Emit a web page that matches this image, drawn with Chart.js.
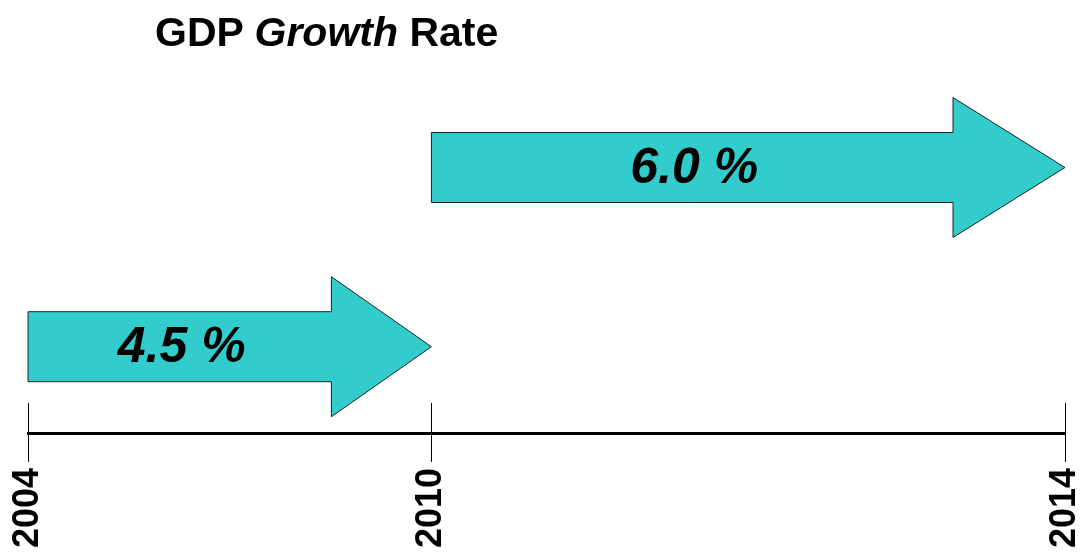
<!DOCTYPE html>
<html>
<head>
<meta charset="utf-8">
<script src="https://cdn.jsdelivr.net/npm/chart.js@4.4.0/dist/chart.umd.min.js"></script>
<style>
  body { margin: 0; background: #fff; }
  #wrap { position: relative; width: 1082px; height: 554px; }
  #title {
    position: absolute; left: 155px; top: 9px;
    font: bold 41px "Liberation Sans", Arial, sans-serif; color: #000;
  }
</style>
</head>
<body>
<div id="wrap">
  <div id="title">GDP <i>Growth</i> Rate</div>
  <canvas id="chart" width="1082" height="554"></canvas>
</div>
<script>
// データ
const years = ["2004", "2010", "2014"];
const periodStart = ["2004", "2010"];
const periodEnd = ["2010", "2014"];
const growthRates = [4.5, 6.0];
const rateLabels = ["4.5 %", "6.0 %"];

// 元のスライドでは年の間隔が比例していないので、軸上の位置を別に持つ (0〜1)
const yearAxisPos = [0, 0.389, 1];
const posOf = (yr) => yearAxisPos[years.indexOf(yr)];

// 矢印の形
const arrowHead = [100, 112];
const bodyHalf = 35;
const headHalf = 70;

const arrowPlugin = {
  id: "arrows",
  afterDatasetsDraw(chart) {
    const { ctx, scales: { x, y } } = chart;
    const meta = chart.getDatasetMeta(0);
    ctx.save();
    growthRates.forEach((rate, i) => {
      const x0 = x.getPixelForValue(posOf(periodStart[i]));
      const tip = meta.data[i].x;
      const yc = meta.data[i].y;
      const xh = tip - arrowHead[i];
      ctx.beginPath();
      ctx.moveTo(x0, yc - bodyHalf);
      ctx.lineTo(xh, yc - bodyHalf);
      ctx.lineTo(xh, yc - headHalf);
      ctx.lineTo(tip, yc);
      ctx.lineTo(xh, yc + headHalf);
      ctx.lineTo(xh, yc + bodyHalf);
      ctx.lineTo(x0, yc + bodyHalf);
      ctx.closePath();
      ctx.fillStyle = "#33CCCC";
      ctx.fill();
      ctx.lineWidth = 1;
      ctx.strokeStyle = "#222";
      ctx.stroke();

      ctx.fillStyle = "#000";
      ctx.font = 'italic bold 50px "Liberation Sans", Arial, sans-serif';
      ctx.textAlign = "center";
      ctx.textBaseline = "middle";
      ctx.fillText(rateLabels[i], (x0 + xh) / 2 + 2, yc + 2);
    });

    // 軸の上に出る目盛りの線
    ctx.strokeStyle = "#000";
    ctx.lineWidth = 1;
    yearAxisPos.forEach((p) => {
      const px = Math.round(x.getPixelForValue(p)) + 0.5;
      ctx.beginPath();
      ctx.moveTo(px, y.bottom - 31);
      ctx.lineTo(px, y.bottom);
      ctx.stroke();
    });
    ctx.restore();
  }
};

new Chart(document.getElementById("chart"), {
  type: "scatter",
  data: {
    datasets: [{
      data: growthRates.map((r, i) => ({ x: posOf(periodEnd[i]), y: r })),
      pointRadius: 0
    }]
  },
  options: {
    responsive: false,
    animation: false,
    events: [],
    layout: { padding: { top: 60, left: 28, right: 17, bottom: 0 } },
    plugins: { legend: { display: false }, tooltip: { enabled: false } },
    scales: {
      x: {
        type: "linear",
        min: 0,
        max: 1,
        afterBuildTicks: (axis) => { axis.ticks = yearAxisPos.map(v => ({ value: v })); },
        // 回転したラベルの分の左右余白は要らない
        afterFit: (axis) => { axis.paddingLeft = 0; axis.paddingRight = 0; },
        ticks: {
          autoSkip: false,
          maxRotation: 90,
          minRotation: 90,
          padding: 6,
          color: "#000",
          font: { family: '"Liberation Sans", Arial, sans-serif', size: 36, weight: "bold", lineHeight: 1 },
          callback: (v) => years[yearAxisPos.indexOf(v)]
        },
        grid: { drawOnChartArea: false, tickLength: 28, tickWidth: 1, color: "#000" },
        border: { display: true, width: 3, color: "#000" }
      },
      y: {
        display: false,
        min: 3.77,
        max: 6.9
      }
    }
  },
  plugins: [arrowPlugin]
});
</script>
</body>
</html>
